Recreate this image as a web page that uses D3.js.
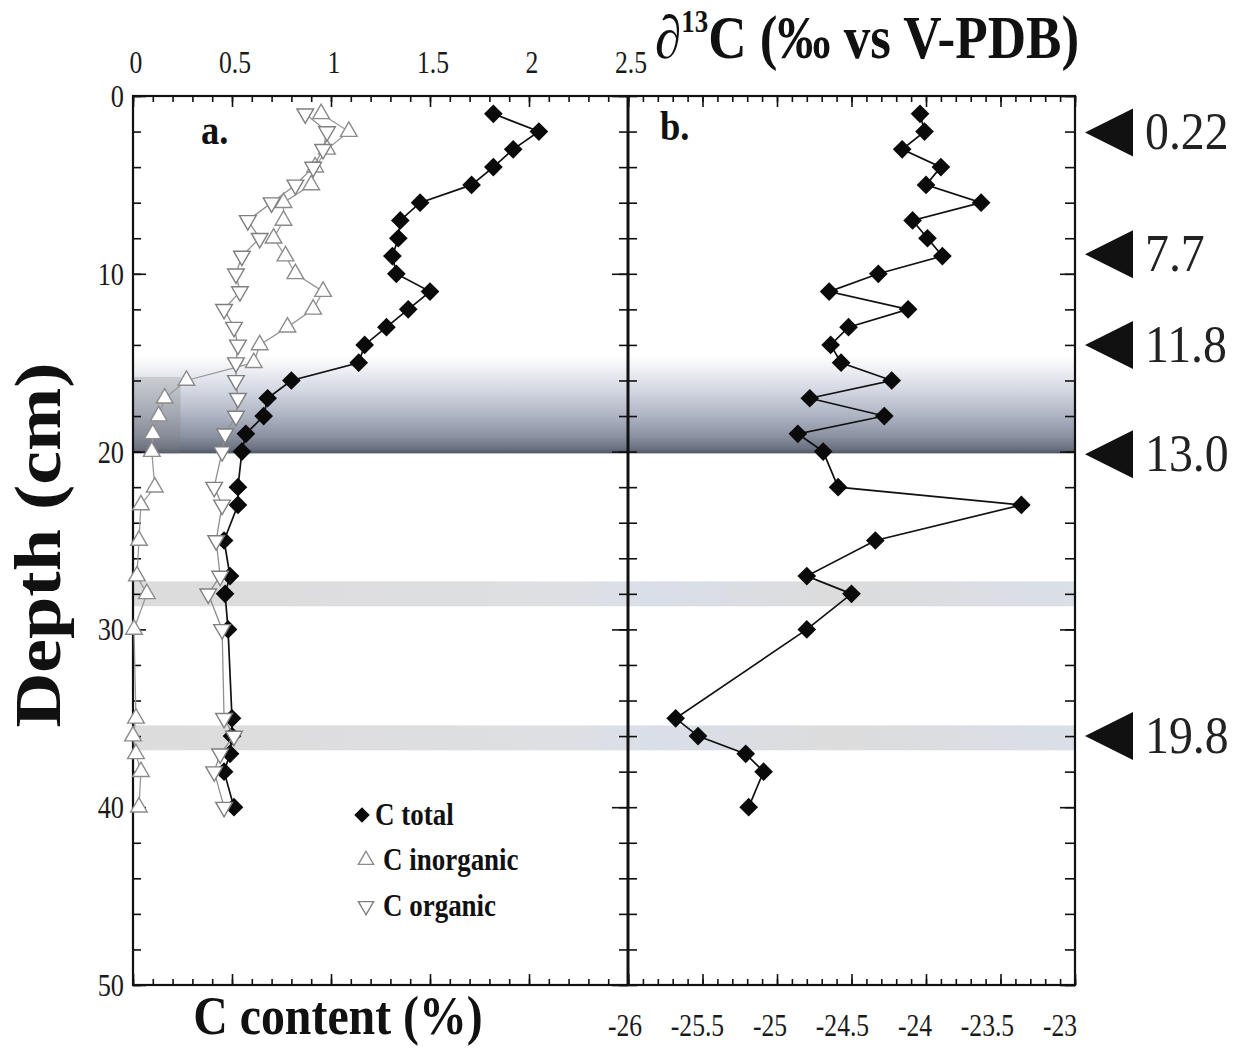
<!DOCTYPE html>
<html><head><meta charset="utf-8">
<script src="https://cdn.jsdelivr.net/npm/d3@7"></script>
<style>body{margin:0;background:#fff}svg{display:block}</style>
</head><body>
<svg id="chart" width="1257" height="1051"></svg>
<script>
// ---------------- data ----------------
const depth = [1,2,3,4,5,6,7,8,9,10,11,12,13,14,15,16,17,18,19,20,22,23,25,27,28,30,35,36,37,38,40];
const cTotal = [1.82,2.05,1.92,1.82,1.71,1.45,1.35,1.34,1.31,1.33,1.50,1.39,1.28,1.17,1.14,0.80,0.68,0.66,0.57,0.55,0.53,0.53,0.46,0.49,0.465,0.48,0.50,0.50,0.49,0.46,0.51];
const cInorganic = [0.95,1.09,0.98,0.92,0.90,0.76,0.76,0.71,0.77,0.82,0.96,0.91,0.78,0.64,0.61,0.27,0.16,0.13,0.10,0.095,0.11,0.04,0.03,0.02,0.07,0.005,0.015,0.0,0.015,0.04,0.03];
const cOrganic = [0.87,0.98,0.96,0.91,0.82,0.70,0.58,0.64,0.55,0.52,0.54,0.46,0.51,0.53,0.52,0.52,0.53,0.52,0.465,0.45,0.41,0.45,0.42,0.44,0.38,0.45,0.46,0.51,0.44,0.41,0.46];
const d13C = [-24.04,-24.01,-24.16,-23.90,-24.00,-23.63,-24.09,-23.99,-23.89,-24.32,-24.65,-24.12,-24.52,-24.64,-24.57,-24.23,-24.78,-24.28,-24.86,-24.69,-24.59,-23.36,-24.34,-24.80,-24.50,-24.80,-25.68,-25.53,-25.21,-25.09,-25.19];

const cTicks = [0,0.5,1,1.5,2,2.5];
const cTickLabels = ["0","0.5","1","1.5","2","2.5"];
const isoTicks = [-26,-25.5,-25,-24.5,-24,-23.5,-23];
const isoTickLabels = ["-26","-25.5","-25","-24.5","-24","-23.5","-23"];
const depthTicks = [0,10,20,30,40,50];

// age markers (depth in cm, label)
const markerDepth = [2.05, 8.9, 14.0, 20.15, 36.0];
const markerLabel = ["0.22","7.7","11.8","13.0","19.8"];

// shaded layers (depth ranges)
const gradBand = [14.6, 20.1];
const grayBands = [[27.3, 28.7],[35.4, 36.8]];

const legendLabels = ["C total","C inorganic","C organic"];

// ---------------- scales ----------------
const svg = d3.select("#chart");
const xL = d3.scaleLinear().domain([0,2.5]).range([133,628]);
const xR = d3.scaleLinear().domain([-26,-23]).range([628,1075]);
const xRLab = d3.scaleLinear().domain([-26,-23]).range([625,1060]);
const y = d3.scaleLinear().domain([0,50]).range([96,985]);
const FONT = "'Liberation Serif','Times New Roman',Times,serif";

// ---------------- bands ----------------
const defs = svg.append("defs");
const g1 = defs.append("linearGradient").attr("id","band").attr("x1",0).attr("y1",0).attr("x2",0).attr("y2",1);
[[0,"#ffffff"],[0.12,"#f0f2f6"],[0.35,"#d3d8e2"],[0.6,"#b0b6c4"],[0.82,"#8b92a2"],[0.95,"#6a7181"],[1,"#4f5564"]]
  .forEach(s=>g1.append("stop").attr("offset",s[0]).attr("stop-color",s[1]));
const g2 = defs.append("linearGradient").attr("id","gband").attr("x1",0).attr("y1",0).attr("x2",1).attr("y2",0);
[[0,"#dcdcdc"],[0.45,"#dedfe2"],[0.55,"#d9dfe9"],[0.75,"#dcdcdc"],[1,"#dadfe8"]]
  .forEach(s=>g2.append("stop").attr("offset",s[0]).attr("stop-color",s[1]));

svg.append("rect").attr("x",xL(0)).attr("width",xR(-23)-xL(0))
  .attr("y",y(gradBand[0])).attr("height",y(gradBand[1])-y(gradBand[0]))
  .attr("fill","url(#band)");
svg.append("rect").attr("x",xL(0)).attr("width",xL(0.24)-xL(0))
  .attr("y",y(15.8)).attr("height",y(20.1)-y(15.8))
  .attr("fill","#7a7a7a").attr("opacity",0.25);
svg.selectAll("rect.gb").data(grayBands).join("rect").attr("class","gb")
  .attr("x",xL(0)).attr("width",xR(-23)-xL(0))
  .attr("y",d=>y(d[0])).attr("height",d=>y(d[1])-y(d[0]))
  .attr("fill","url(#gband)");

// ---------------- axes ----------------
function styleAxis(g, w){
  g.select(".domain").remove();
  g.selectAll("line").attr("stroke","#111").attr("stroke-width",w||1.6);
  g.selectAll("text").remove();
}
const minorC = d3.range(0,2.5001,0.1);
const minorI = d3.range(-26,-22.999,0.1);
const minorD = d3.range(0,50.001,2);
svg.append("g").attr("transform","translate(0,96)").call(d3.axisBottom(xL).tickValues(minorC).tickSize(6)).call(styleAxis);
svg.append("g").attr("transform","translate(0,96)").call(d3.axisBottom(xL).tickValues(cTicks).tickSize(11)).call(styleAxis);
svg.append("g").attr("transform","translate(0,985)").call(d3.axisTop(xL).tickValues(minorC).tickSize(6)).call(styleAxis);
svg.append("g").attr("transform","translate(0,985)").call(d3.axisTop(xL).tickValues(cTicks).tickSize(11)).call(styleAxis);
svg.append("g").attr("transform","translate(0,96)").call(d3.axisBottom(xR).tickValues(minorI).tickSize(6)).call(styleAxis);
svg.append("g").attr("transform","translate(0,96)").call(d3.axisBottom(xR).tickValues(isoTicks).tickSize(11)).call(styleAxis);
svg.append("g").attr("transform","translate(0,985)").call(d3.axisTop(xR).tickValues(minorI).tickSize(6)).call(styleAxis);
svg.append("g").attr("transform","translate(0,985)").call(d3.axisTop(xR).tickValues(isoTicks).tickSize(11)).call(styleAxis);
svg.append("g").attr("transform","translate(133,0)").call(d3.axisLeft(y).tickValues(minorD).tickSize(-8)).call(styleAxis);
svg.append("g").attr("transform","translate(133,0)").call(d3.axisLeft(y).tickValues(depthTicks).tickSize(-13)).call(styleAxis);
svg.append("g").attr("transform","translate(628,0)").call(d3.axisLeft(y).tickValues(minorD).tickSize(9)).call(styleAxis);
svg.append("g").attr("transform","translate(628,0)").call(d3.axisLeft(y).tickValues(depthTicks).tickSize(16)).call(styleAxis);
svg.append("g").attr("transform","translate(628,0)").call(d3.axisRight(y).tickValues(minorD).tickSize(9)).call(styleAxis);
svg.append("g").attr("transform","translate(1075,0)").call(d3.axisRight(y).tickValues(minorD).tickSize(-10)).call(styleAxis);
svg.append("g").attr("transform","translate(1075,0)").call(d3.axisRight(y).tickValues(depthTicks).tickSize(-15)).call(styleAxis);

// frame
svg.append("rect").attr("x",133).attr("y",96).attr("width",1075-133).attr("height",985-96)
  .attr("fill","none").attr("stroke","#111").attr("stroke-width",2.2);
svg.append("line").attr("x1",628).attr("x2",628).attr("y1",96).attr("y2",985)
  .attr("stroke","#111").attr("stroke-width",3);

// tick labels
function scaledText(sel, x, yy, anchor, s){
  return sel.attr("transform",`translate(${x},${yy}) scale(${s||0.87},1)`).attr("text-anchor",anchor||"middle");
}
svg.append("g").selectAll("text").data(cTicks).join("text")
  .each(function(d,i){ scaledText(d3.select(this), xL(d)+3, 73, "middle", 0.8); })
  .attr("font-family",FONT).attr("font-size",32).attr("fill","#1a1a1a").text((d,i)=>cTickLabels[i]);
svg.append("g").selectAll("text").data(isoTicks).join("text")
  .each(function(d,i){ scaledText(d3.select(this), xRLab(d), 1036, "middle", 0.8); })
  .attr("font-family",FONT).attr("font-size",32).attr("fill","#1a1a1a").text((d,i)=>isoTickLabels[i]);
svg.append("g").selectAll("text").data(depthTicks).join("text")
  .each(function(d){ scaledText(d3.select(this), 124, y(d)+11, "end", 0.85); })
  .attr("font-family",FONT).attr("font-size",31).attr("fill","#1a1a1a").text(d=>d);

// titles
scaledText(svg.append("text"), 338, 1034, "middle", 0.87).attr("font-family",FONT).attr("font-weight","bold")
  .attr("font-size",55).attr("fill","#111").text("C content (%)");
svg.append("text").attr("transform",`translate(60,545) scale(0.87,1) rotate(-90)`)
  .attr("text-anchor","middle").attr("font-family",FONT).attr("font-weight","bold")
  .attr("font-size",76).attr("fill","#111").text("Depth (cm)");
const ttl = scaledText(svg.append("text"), 655, 58, "start", 0.87).attr("font-family",FONT).attr("font-weight","bold")
  .attr("font-size",61).attr("fill","#111");
ttl.append("tspan").attr("font-style","italic").text("\u2202");
ttl.append("tspan").attr("font-size",31).attr("dy",-26).text("13");
ttl.append("tspan").attr("dy",26).text("C (\u2030 vs V-PDB)");

scaledText(svg.append("text"), 201, 144, "start").attr("font-family",FONT).attr("font-weight","bold")
  .attr("font-size",42).attr("fill","#111").text("a.");
scaledText(svg.append("text"), 660, 140, "start").attr("font-family",FONT).attr("font-weight","bold")
  .attr("font-size",42).attr("fill","#111").text("b.");

// ---------------- series ----------------
const diamond = d3.symbol(d3.symbolSquare, 175)();
const diamondSmall = d3.symbol(d3.symbolSquare, 120)();
const tri = d3.symbol(d3.symbolTriangle, 120)();
const triSmall = d3.symbol(d3.symbolTriangle, 100)();

const lineL = vals => d3.line().x((d,i)=>xL(vals[i])).y(d=>y(d))(depth);
const lineR = vals => d3.line().x((d,i)=>xR(vals[i])).y(d=>y(d))(depth);

svg.append("path").attr("d",lineL(cTotal)).attr("fill","none").attr("stroke","#111").attr("stroke-width",1.7);
svg.append("g").selectAll("path").data(depth).join("path").attr("d",diamond)
  .attr("transform",(d,i)=>`translate(${xL(cTotal[i])},${y(d)}) rotate(45)`).attr("fill","#0a0a0a");
svg.append("path").attr("d",lineL(cInorganic)).attr("fill","none").attr("stroke","#999").attr("stroke-width",1.3);
svg.append("g").selectAll("path").data(depth).join("path").attr("d",tri)
  .attr("transform",(d,i)=>`translate(${xL(cInorganic[i])},${y(d)})`)
  .attr("fill","#fff").attr("stroke","#8c8c8c").attr("stroke-width",1.4);
svg.append("path").attr("d",lineL(cOrganic)).attr("fill","none").attr("stroke","#8f8f8f").attr("stroke-width",1.3);
svg.append("g").selectAll("path").data(depth).join("path").attr("d",tri)
  .attr("transform",(d,i)=>`translate(${xL(cOrganic[i])},${y(d)}) rotate(180)`)
  .attr("fill","#fff").attr("stroke","#7f7f7f").attr("stroke-width",1.4);

svg.append("path").attr("d",lineR(d13C)).attr("fill","none").attr("stroke","#111").attr("stroke-width",1.7);
svg.append("g").selectAll("path").data(depth).join("path").attr("d",diamond)
  .attr("transform",(d,i)=>`translate(${xR(d13C[i])},${y(d)}) rotate(45)`).attr("fill","#0a0a0a");

// ---------------- age markers ----------------
const mk = svg.append("g").selectAll("g").data(markerDepth).join("g")
  .attr("transform",d=>`translate(1085,${y(d)})`);
mk.append("path").attr("d","M0,0L48,-24L48,24Z").attr("fill","#111");
mk.append("text").attr("transform","translate(60,17) scale(0.92,1)").attr("font-family",FONT).attr("font-size",52)
  .attr("fill","#222").text((d,i)=>markerLabel[i]);

// ---------------- legend ----------------
const legY = [815, 860, 906];
const lg = svg.append("g");
lg.append("path").attr("d",diamondSmall).attr("transform",`translate(362,${legY[0]}) rotate(45)`).attr("fill","#0a0a0a");
lg.append("path").attr("d",triSmall).attr("transform",`translate(366,${legY[1]})`)
  .attr("fill","#fff").attr("stroke","#8c8c8c").attr("stroke-width",1.4);
lg.append("path").attr("d",triSmall).attr("transform",`translate(366,${legY[2]}) rotate(180)`)
  .attr("fill","#fff").attr("stroke","#7f7f7f").attr("stroke-width",1.4);
lg.selectAll("text").data(legendLabels).join("text")
  .each(function(d,i){ scaledText(d3.select(this), i===0?375:383, legY[i]+10, "start", 0.87); })
  .attr("font-family",FONT).attr("font-weight","bold").attr("font-size",31).attr("fill","#111")
  .text(d=>d);
</script>
</body></html>
